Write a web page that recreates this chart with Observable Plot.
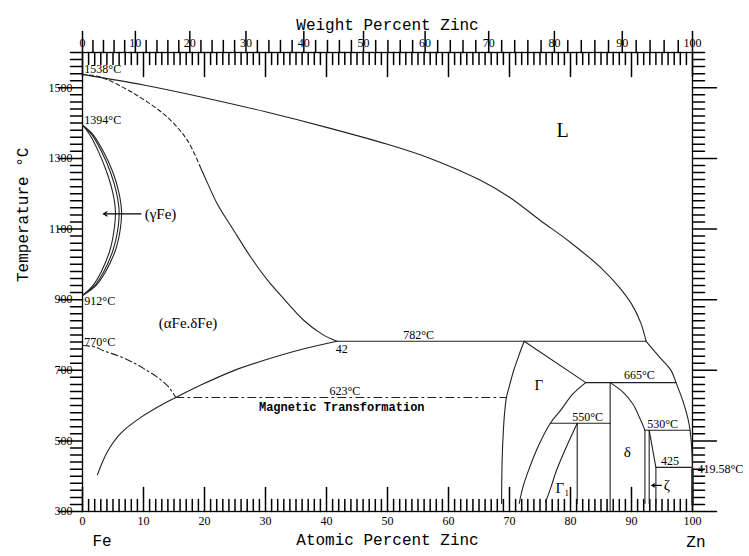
<!DOCTYPE html>
<html><head><meta charset="utf-8">
<script src="https://cdn.jsdelivr.net/npm/d3@7"></script>
<script src="https://cdn.jsdelivr.net/npm/@observablehq/plot@0.6"></script>
<style>html,body{margin:0;padding:0;background:#fff;}</style>
</head><body><div id="chart"></div>
<script>
// ---- tick values ----
const atomicLabels = [0,10,20,30,40,50,60,70,80,90,100];
const weightLabels = [0,10,20,30,40,50,60,70,80,90,100];
const tempLabels = [300,500,700,900,1100,1300,1500];

// ---- phase boundaries: [atomic % Zn, temperature °C] ----
const liquidusFe = [[0,1538],[10,1508],[20,1472],[30,1432],[40,1388],[50,1340],[57,1300],[65,1240],[70,1190],[75,1125],[80,1062],[85,990],[88,935],[90,888],[91.5,835],[92.4,782]];
const liquidusZn = [[92.4,782],[94.6,737],[96.5,699],[97.3,665],[98.4,614],[99.2,567],[99.6,530],[99.9,470],[100,419.58]];
const deltaLiqDashed = [[0,1538],[3,1530],[8.5,1483],[13.9,1417],[17.2,1351],[19.2,1280]];
const deltaLiqSolid = [[19.2,1280],[20.5,1230],[22.1,1171],[24.8,1096],[27.6,1020],[30.3,956],[32.5,912],[36.3,841],[39.2,803],[41.7,782]];
const gammaOuter = [[0,1394],[1.6,1370],[3.4,1320],[5.0,1260],[6.0,1200],[6.4,1150],[6.2,1100],[5.4,1040],[3.8,980],[2.2,940],[0,912]];
const gammaMiddle = [[0,1394],[1.4,1370],[3.1,1320],[4.6,1260],[5.6,1200],[6.0,1150],[5.8,1100],[5.0,1040],[3.5,980],[2.0,940],[0,912]];
const gammaInner = [[0,1394],[1.1,1370],[2.6,1320],[4.0,1260],[5.0,1200],[5.4,1150],[5.2,1100],[4.5,1040],[3.1,980],[1.7,940],[0,912]];
const alphaSolvus = [[2.45,404],[4.1,470],[6.3,522],[9.5,566],[13.9,611],[15.3,623],[19.4,658],[24.8,699],[30.3,731],[35.7,758],[41.7,782]];
const curieLine = [[0,770],[2,766],[3.5,755],[6,740],[8.5,720],[10.5,700],[12.3,680],[14,655],[15.3,623]];
const magneticLine = [[15.3,623],[69.5,623]];
const line782 = [[41.7,782],[92.4,782]];
const gammaPeritectic = [[72.4,782],[82.5,665]];
const line665 = [[82.5,665],[97.3,665]];
const gammaLeft = [[72.4,782],[71.5,740],[70.7,700],[69.9,650],[69.5,623],[69.2,580],[69.0,530],[68.8,450],[68.7,323]];
const gammaRight = [[82.5,665],[80.4,633],[78.3,585],[76.7,550],[74.9,492],[73.3,425],[72.2,369],[71.6,323]];
const line550 = [[76.7,550],[86.5,550]];
const gamma1Left = [[81.1,550],[79.3,482],[77.7,416],[76.8,369],[75.9,326]];
const gamma1Right = [[81.1,550],[81.1,323]];
const deltaLeft = [[86.5,665],[86.5,300]];
const deltaRight = [[86.5,665],[88.6,638],[90.2,605],[91.3,567],[92.0,539],[92.2,530]];
const deltaRightLow = [[92.2,530],[92.2,323]];
const zetaLeft = [[92.9,530],[92.9,323]];
const zetaRight = [[92.9,530],[94.0,425],[94.0,323]];
const line530 = [[92.2,530],[99.6,530]];
const line425 = [[94.0,425],[100,425]];
const znLine = [[100,419.58],[100,320]];

// ---- annotations: text, atomic %, °C ----
const leftLabels = [["1538°C",0.3,1552],["1394°C",0.3,1408],["912°C",0.3,896],["770°C",0.3,780]];
const numLabels = [["782°C",55.1,799],["42",42.5,759],["623°C",43.0,640],["665°C",91.3,685],["550°C",82.8,566],["530°C",95.1,546],["425",96.3,442]];
const phaseLabels = [["(αFe.δFe)",17.3,832],["Γ",74.8,657],["δ",89.3,467],["Γ₁",78.7,365],["ζ",95.8,374]];
const arrows = [[9.6,1143,3.4,1143],[94.9,374,93.3,374]];

const wtToAt = w => 100 * (w/65.38) / (w/65.38 + (100-w)/55.845);
const P = a => a.map(([x,y]) => ({x,y}));

const tickUp = {draw(c,l){c.moveTo(0,0);c.lineTo(0,-l);}};
const tickDown = {draw(c,l){c.moveTo(0,0);c.lineTo(0,l);}};
const tickLeft = {draw(c,l){c.moveTo(0,0);c.lineTo(-l,0);}};
const tickRight = {draw(c,l){c.moveTo(0,0);c.lineTo(l,0);}};

const atMinor = d3.range(0,101,1);
const wtMinor = d3.range(0,101,2);
const tMinor = d3.range(300,1601,20);

const serif = "'Liberation Serif', 'DejaVu Serif', serif";
const mono = "'Liberation Mono', 'DejaVu Sans Mono', monospace";
const LS = {stroke:"#222", strokeWidth:1.1};
const line = (d, o={}) => Plot.line(P(d), {x:"x", y:"y", curve:"catmull-rom", ...LS, ...o});

const chart = Plot.plot({
  width: 749, height: 556,
  marginTop: 52, marginBottom: 45, marginLeft: 82, marginRight: 57,
  x: {domain:[0,100], axis:null},
  y: {domain:[300,1600], axis:null},
  style: {background:"#fff", color:"#000"},
  marks: [
    Plot.frame({stroke:"#000", strokeWidth:1.3}),
    // ticks
    Plot.vector(atMinor, {x:d=>d, y:()=>300, length:d=>d%10===0?8:4, shape:tickUp, anchor:"start", stroke:"#000"}),
    Plot.vector(atMinor, {x:d=>d, y:()=>1600, length:d=>d%10===0?8:4, shape:tickDown, anchor:"start", stroke:"#000"}),
    Plot.vector(wtMinor, {x:d=>wtToAt(d), y:()=>1600, length:d=>d%10===0?7:4, shape:tickUp, anchor:"start", stroke:"#000"}),
    Plot.vector(tMinor, {x:()=>0, y:d=>d, length:d=>(d-300)%200===0?8:4, shape:tickLeft, anchor:"start", stroke:"#000"}),
    Plot.vector(tMinor, {x:()=>100, y:d=>d, length:d=>(d-300)%200===0?8:4, shape:tickRight, anchor:"start", stroke:"#000"}),
    // tick labels
    Plot.text(atomicLabels, {x:d=>d, frameAnchor:"bottom", dy:13, text:d=>String(d), fontFamily:serif, fontSize:12}),
    Plot.text(weightLabels, {x:d=>wtToAt(d), frameAnchor:"top", dy:-14, text:d=>String(d), fontFamily:serif, fontSize:12}),
    Plot.text(tempLabels, {y:d=>d, frameAnchor:"left", dx:-10, textAnchor:"end", text:d=>String(d), fontFamily:serif, fontSize:12}),
    // axis titles
    Plot.text(["Weight Percent Zinc"], {frameAnchor:"top", dy:-34, fontFamily:mono, fontSize:16}),
    Plot.text(["Atomic Percent Zinc"], {frameAnchor:"bottom", dy:33, fontFamily:mono, fontSize:16}),
    Plot.text(["Temperature °C"], {frameAnchor:"left", dx:-60, rotate:-90, fontFamily:mono, fontSize:16}),
    Plot.text(["Fe"], {frameAnchor:"bottom-left", dx:10, dy:34, fontFamily:mono, fontSize:16}),
    Plot.text(["Zn"], {frameAnchor:"bottom-right", dx:13, dy:35, fontFamily:mono, fontSize:16}),
    // boundaries
    line(liquidusFe), line(liquidusZn),
    line(deltaLiqDashed, {strokeDasharray:"4,3"}), line(deltaLiqSolid),
    line(gammaOuter), line(gammaMiddle), line(gammaInner),
    line(alphaSolvus),
    line(curieLine, {strokeDasharray:"7,3,2,3"}),
    line(magneticLine, {curve:"linear", strokeDasharray:"8,4,2,4"}),
    line(line782, {curve:"linear"}), line(gammaPeritectic, {curve:"linear"}), line(line665, {curve:"linear"}),
    line(gammaLeft), line(gammaRight), line(line550, {curve:"linear"}),
    line(gamma1Left), line(gamma1Right, {curve:"linear"}),
    line(deltaLeft, {curve:"linear"}), line(deltaRight), line(deltaRightLow, {curve:"linear"}),
    line(zetaLeft, {curve:"linear"}), line(zetaRight, {curve:"linear"}),
    line(line530, {curve:"linear"}), line(line425, {curve:"linear"}),
    line(znLine, {curve:"linear", strokeWidth:2.5}),
    Plot.arrow(arrows, {x1:d=>d[0], y1:d=>d[1], x2:d=>d[2], y2:d=>d[3], stroke:"#000", strokeWidth:1.1, headLength:6}),
    // labels
    Plot.text(leftLabels, {x:d=>d[1], y:d=>d[2], text:d=>d[0], textAnchor:"start", fontFamily:serif, fontSize:12}),
    Plot.text(numLabels, {x:d=>d[1], y:d=>d[2], text:d=>d[0], fontFamily:serif, fontSize:12}),
    Plot.text(phaseLabels, {x:d=>d[1], y:d=>d[2], text:d=>d[0], fontFamily:serif, fontSize:15}),
    Plot.text(["(γFe)"], {x:()=>10.2, y:()=>1143, textAnchor:"start", fontFamily:serif, fontSize:15}),
    Plot.text(["L"], {x:()=>78.7, y:()=>1379, fontFamily:serif, fontSize:20}),
    Plot.text(["Magnetic Transformation"], {x:()=>42.5, y:()=>595, fontFamily:mono, fontSize:12, fontWeight:"bold"}),
    Plot.text(["419.58°C"], {x:()=>100, y:()=>419.58, dx:5, textAnchor:"start", fontFamily:serif, fontSize:12})
  ]
});
document.getElementById("chart").appendChild(chart);
</script>
</body></html>
